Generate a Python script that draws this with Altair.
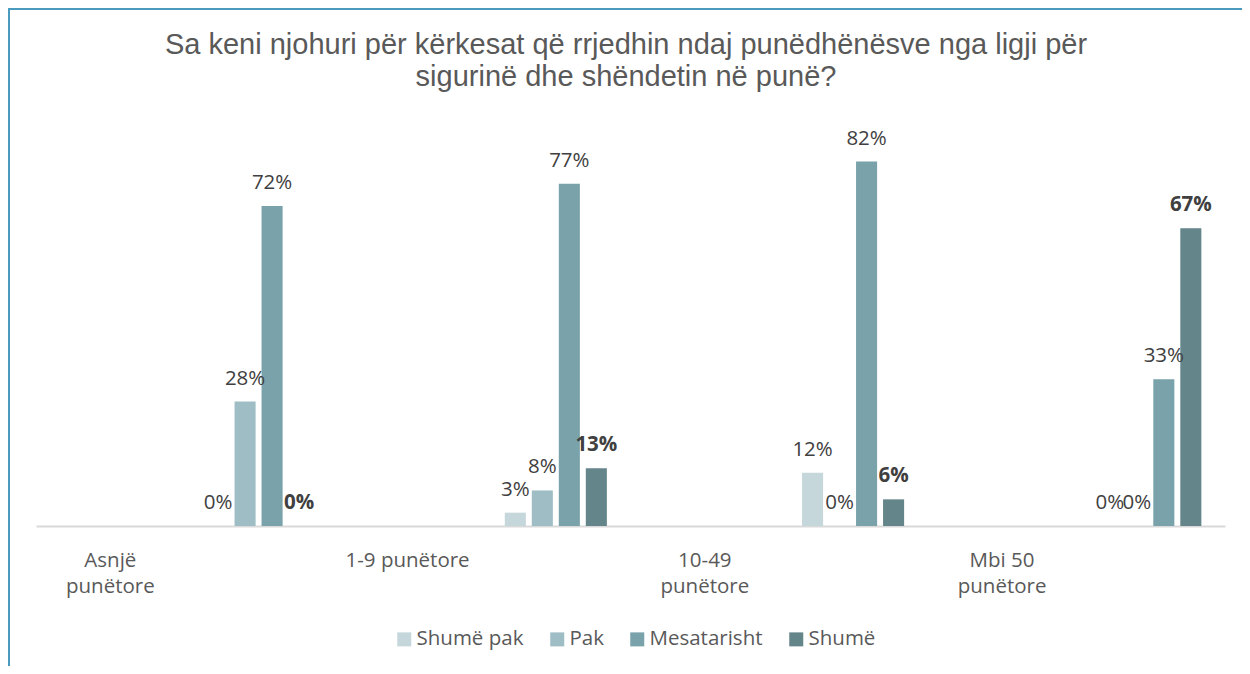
import altair as alt
import pandas as pd

groups = ["Asnjë punëtore", "1-9 punëtore", "10-49 punëtore", "Mbi 50 punëtore"]
series = ["Shumë pak", "Pak", "Mesatarisht", "Shumë"]
shume_pak = [0, 3, 12, 0]
pak = [28, 8, 0, 0]
mesatarisht = [72, 77, 82, 33]
shume = [0, 13, 6, 67]
colors = ["#c6d7dc", "#9fbdc4", "#79a2aa", "#648589"]
title_lines = [
    "Sa keni njohuri për kërkesat që rrjedhin ndaj punëdhënësve nga ligji për",
    "sigurinë dhe shëndetin në punë?",
]

rows = []
for s, vals in zip(series, [shume_pak, pak, mesatarisht, shume]):
    for g, v in zip(groups, vals):
        rows.append({"grupi": g, "seria": s, "vlera": v})
df = pd.DataFrame(rows)

W, H = 1189, 400
FONT = "Open Sans"

# empty slots in each category band (the bars sit in the right half of the band)
empty_slots = ["_e1", "_e2", "_e3", "_e4", "_e5", "_e6"]

x = alt.X(
    "grupi:N",
    sort=groups,
    title=None,
    scale=alt.Scale(paddingInner=0, paddingOuter=0),
    axis=alt.Axis(
        ticks=False,
        domainColor="#d9d9d9",
        domainWidth=2,
        labelFont=FONT,
        labelFontSize=20.5,
        labelColor="#595959",
        labelAngle=0,
        labelOffset=-74.3,
        labelPadding=24,
        labelLineHeight=26,
        labelBaseline="top",
        labelExpr="indexof(datum.label, '1-9') == 0 ? datum.label : [replace(datum.label, ' punëtore', ''), 'punëtore']",
    ),
)
xo = alt.XOffset(
    "seria:N",
    scale=alt.Scale(domain=empty_slots + series, paddingInner=0.22, paddingOuter=0.6136, align=0.287),
)
y = alt.Y("vlera:Q", scale=alt.Scale(domain=[0, 90]), axis=None)

base = alt.Chart(df).transform_calculate(lbl="datum.vlera + '%'")

bars = base.mark_bar().encode(
    x=x,
    xOffset=xo,
    y=y,
    color=alt.Color(
        "seria:N",
        scale=alt.Scale(domain=series, range=colors),
        legend=alt.Legend(
            orient="none",
            legendX=358,
            legendY=503,
            direction="horizontal",
            title=None,
            symbolType="square",
            symbolSize=196,
            symbolStrokeWidth=0,
            labelFont=FONT,
            labelFontSize=20.5,
            labelColor="#595959",
            columnPadding=23,
            labelOffset=2,
            padding=0,
        ),
    ),
)

txt_normal = base.transform_filter("datum.seria != 'Shumë'").mark_text(
    baseline="alphabetic", dy=-17, font=FONT, fontSize=20.5, color="#404040"
).encode(x=x, xOffset=xo, y=y, text="lbl:N")

txt_bold = base.transform_filter("datum.seria == 'Shumë'").mark_text(
    baseline="alphabetic", dy=-17, font=FONT, fontSize=20.5, color="#404040", fontWeight="bold"
).encode(x=x, xOffset=xo, y=y, text="lbl:N")

title = alt.Chart(alt.Data(values=[{}])).mark_text(
    text=title_lines,
    font="Liberation Sans",
    fontSize=29,
    color="#595959",
    align="center",
    baseline="alphabetic",
    lineHeight=32,
).encode(x=alt.value(590), y=alt.value(-72))

border_left = alt.Chart(alt.Data(values=[{}])).mark_rule(color="#4a9bbf", strokeWidth=2).encode(
    x=alt.value(-27), y=alt.value(-118), y2=alt.value(540)
)
border_top = alt.Chart(alt.Data(values=[{}])).mark_rule(color="#4a9bbf", strokeWidth=2).encode(
    x=alt.value(-28), x2=alt.value(1206), y=alt.value(-117)
)

chart = alt.layer(bars, txt_normal, txt_bold, title, border_left, border_top).properties(
    width=W,
    height=H,
    autosize=alt.AutoSizeParams(type="none"),
    padding={"left": 28, "top": 118, "right": 17, "bottom": 140},
).configure_view(strokeWidth=0)

chart.save("out.html", embed_options={"renderer": "svg", "actions": False})
